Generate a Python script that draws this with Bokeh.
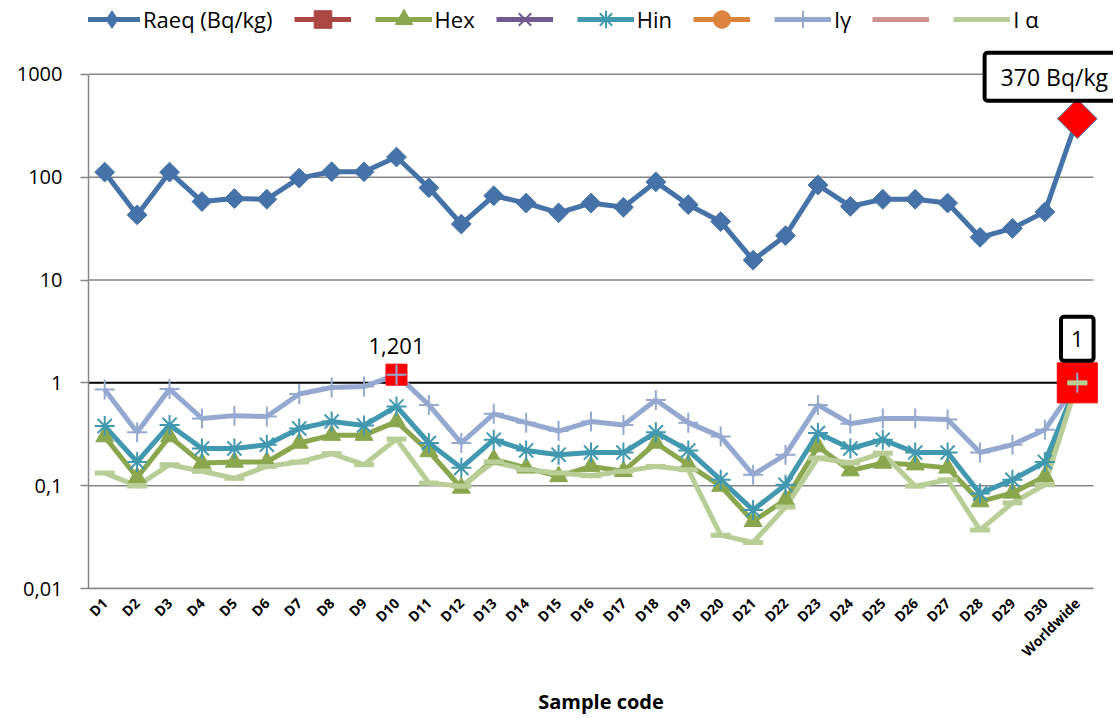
import math
from bokeh.plotting import figure
from bokeh.models import Range1d, FixedTicker, Label, Legend, LegendItem
from bokeh.embed import file_html
from bokeh.resources import INLINE

samples = ["D1", "D2", "D3", "D4", "D5", "D6", "D7", "D8", "D9", "D10",
           "D11", "D12", "D13", "D14", "D15", "D16", "D17", "D18", "D19", "D20",
           "D21", "D22", "D23", "D24", "D25", "D26", "D27", "D28", "D29", "D30",
           "Worldwide"]

raeq = [112, 43, 112, 58, 62, 61, 98, 113, 113, 157, 79, 35, 66, 56, 45, 56, 51, 90, 54, 37,
        15.6, 27, 84, 52, 61, 61, 56, 26, 31.8, 46, 370]
hex_ = [0.30, 0.12, 0.30, 0.166, 0.17, 0.17, 0.26, 0.31, 0.31, 0.42, 0.215, 0.095, 0.18, 0.149,
        0.123, 0.154, 0.138, 0.26, 0.16, 0.099, 0.045, 0.073, 0.24, 0.14, 0.166, 0.16, 0.149,
        0.070, 0.085, 0.123, 1]
hin = [0.38, 0.17, 0.39, 0.23, 0.23, 0.25, 0.36, 0.42, 0.385, 0.59, 0.26, 0.149, 0.28, 0.22,
       0.20, 0.21, 0.21, 0.33, 0.22, 0.114, 0.058, 0.102, 0.325, 0.23, 0.28, 0.21, 0.21, 0.084,
       0.114, 0.17, 1]
igamma = [0.86, 0.33, 0.87, 0.45, 0.48, 0.47, 0.78, 0.90, 0.92, 1.201, 0.61, 0.26, 0.50, 0.41,
          0.34, 0.42, 0.39, 0.68, 0.41, 0.30, 0.128, 0.20, 0.61, 0.40, 0.45, 0.45, 0.44, 0.21,
          0.25, 0.35, 1]
ialpha = [0.133, 0.099, 0.16, 0.138, 0.118, 0.154, 0.17, 0.205, 0.16, 0.284, 0.106, 0.099, 0.17,
          0.143, 0.133, 0.125, 0.138, 0.154, 0.143, 0.033, 0.028, 0.062, 0.186, 0.166, 0.207,
          0.099, 0.114, 0.037, 0.068, 0.102, 1]

# series that only appear in the legend (no plotted values)
legend_only = [float("nan")]

# highlighted points (red squares): Iγ at D10 and the worldwide reference values
highlight_cats = ["D10", "Worldwide"]
highlight_vals = [1.201, 1]

y_ticks = [0.01, 0.1, 1, 10, 100, 1000]
y_tick_labels = ["0,01", "0,1", "1", "10", "100", "1000"]

FONT = "Open Sans"

# ---- layout (pixels) ----
W, H = 1113, 718
LEFT, BOTTOM = 88, 129
AREA_W = 1005          # width of the drawn plot area (axis-to-axis)
TOP_GAP = 74           # pixels between canvas top and the top (1000) gridline

n = len(samples)
xs = list(range(n))
x_lo = -0.5
x_hi_area = n - 0.5
x_hi = x_lo + (W - LEFT) * n / AREA_W
frame_h = H - BOTTOM
decades = math.log10(y_ticks[-1] / y_ticks[0])
decade_px = (frame_h - TOP_GAP) / decades
y_top = y_ticks[-1] * 10 ** (TOP_GAP / decade_px)

p = figure(width=W, height=H, x_range=Range1d(x_lo, x_hi), y_range=Range1d(y_ticks[0], y_top),
           y_axis_type="log", output_backend="svg", toolbar_location=None,
           min_border_left=LEFT, min_border_right=0, min_border_top=0, min_border_bottom=BOTTOM)
p.outline_line_color = None
p.background_fill_color = "white"
p.xgrid.grid_line_color = None
p.ygrid.grid_line_color = None

# axes
p.yaxis.ticker = FixedTicker(ticks=y_ticks, minor_ticks=[])
p.yaxis.bounds = (y_ticks[0], y_ticks[-1])
p.yaxis.major_label_overrides = dict(zip(y_ticks, y_tick_labels))
p.yaxis.major_label_text_font = FONT
p.yaxis.major_label_text_font_size = "20px"
p.yaxis.major_label_text_color = "black"
p.yaxis.axis_line_color = "#868686"
p.yaxis.axis_line_width = 1.5
p.yaxis.major_tick_line_color = "#868686"
p.yaxis.major_tick_line_width = 1.5
p.yaxis.major_tick_out = 8
p.yaxis.major_tick_in = 0
p.yaxis.minor_tick_line_color = None
p.yaxis.major_label_standoff = 18

p.xaxis.ticker = FixedTicker(ticks=xs, minor_ticks=[])
p.xaxis.bounds = (x_lo, x_hi_area)
p.xaxis.major_label_overrides = dict(zip(xs, samples))
p.xaxis.major_label_orientation = math.pi / 4
p.xaxis.major_label_text_font = FONT
p.xaxis.major_label_text_font_style = "bold"
p.xaxis.major_label_text_font_size = "14px"
p.xaxis.major_label_text_color = "black"
p.xaxis.axis_line_color = "#868686"
p.xaxis.axis_line_width = 1.5
p.xaxis.major_tick_line_color = None
p.xaxis.minor_tick_line_color = None
p.xaxis.major_label_standoff = 6
p.xaxis.axis_label = "Sample code"
p.xaxis.axis_label_text_font = FONT
p.xaxis.axis_label_text_font_style = "bold"
p.xaxis.axis_label_text_font_size = "20px"
p.xaxis.axis_label_text_color = "black"
p.xaxis.axis_label_standoff = 18

# horizontal gridlines limited to the plot area; the line at 1 is black
grid_vals = [t for t in y_ticks if t != 1]
p.segment(x0=x_lo, x1=x_hi_area, y0=grid_vals, y1=grid_vals, line_color="#868686", line_width=1.5)
p.segment(x0=x_lo, x1=x_hi_area, y0=[1], y1=[1], line_color="black", line_width=2)

C_RAEQ = "#4572A7"
C_RED = "#AA4643"
C_HEX = "#8AA74E"
C_PURPLE = "#71588F"
C_HIN = "#4198AF"
C_ORANGE = "#DB843D"
C_IG = "#95A9D0"
C_PINK = "#D19392"
C_IA = "#B9CD96"
LW = 5

# lines first (Excel draws lines below markers)
l_raeq = p.line(xs, raeq, line_color=C_RAEQ, line_width=LW)
l_red = p.line(xs[:1], legend_only, line_color=C_RED, line_width=LW)
l_hex = p.line(xs, hex_, line_color=C_HEX, line_width=LW)
l_purple = p.line(xs[:1], legend_only, line_color=C_PURPLE, line_width=LW)
l_hin = p.line(xs, hin, line_color=C_HIN, line_width=LW)
l_orange = p.line(xs[:1], legend_only, line_color=C_ORANGE, line_width=LW)
l_ig = p.line(xs, igamma, line_color=C_IG, line_width=LW)
l_pink = p.line(xs[:1], legend_only, line_color=C_PINK, line_width=LW)
l_ia = p.line(xs, ialpha, line_color=C_IA, line_width=LW)

# markers
m_raeq = p.scatter(xs[:-1], raeq[:-1], marker="square", angle=math.pi / 4, size=14,
                   fill_color=C_RAEQ, line_color=C_RAEQ)
# diamond used for the legend swatch of Raeq
k_raeq = p.scatter(xs[:1], legend_only, marker="diamond", size=14, fill_color=C_RAEQ,
                   line_color=C_RAEQ)
m_red = p.scatter(xs[:1], legend_only, marker="square", size=14, fill_color=C_RED, line_color=C_RED)
m_hex = p.scatter(xs, hex_, marker="triangle", size=18, fill_color=C_HEX, line_color=C_HEX)
m_purple = p.scatter(xs[:1], legend_only, marker="x", size=16, line_color=C_PURPLE, line_width=2)
m_hin = p.scatter(xs, hin, marker="asterisk", size=20, line_color=C_HIN, line_width=2)
m_orange = p.scatter(xs[:1], legend_only, marker="circle", size=14, fill_color=C_ORANGE,
                     line_color=C_ORANGE)

# red highlight squares
hx = [samples.index(c) for c in highlight_cats]
p.scatter(hx[:1], highlight_vals[:1], marker="square", size=21,
          fill_color="#FF0000", line_color="#FF0000")
p.scatter(hx[1:], highlight_vals[1:], marker="square", size=40,
          fill_color="#FF0000", line_color="#FF0000")

m_ig = p.scatter(xs, igamma, marker="cross", size=20, line_color=C_IG, line_width=2)
m_ia = p.scatter(xs, ialpha, marker="dash", size=20, line_color=C_IA, line_width=5)

# worldwide Raeq highlighted as red diamond
p.scatter(xs[-1:], raeq[-1:], marker="square", angle=math.pi / 4, size=28,
          fill_color="#FF0000", line_color=C_RAEQ, line_width=1)

# labels
p.add_layout(Label(x=hx[1], y=raeq[-1], text="370 Bq/kg", x_offset=-23, y_offset=42,
                   text_align="center", text_baseline="middle", text_font=FONT,
                   text_font_size="23px", text_color="black",
                   border_line_color="black", border_line_width=4, border_radius=3,
                   background_fill_color="white",
                   padding=dict(left=16, right=16, top=8, bottom=8)))
p.add_layout(Label(x=hx[1], y=highlight_vals[1], text="1", y_offset=44,
                   text_align="center", text_baseline="middle", text_font=FONT,
                   text_font_size="22px", text_color="black",
                   border_line_color="black", border_line_width=4, border_radius=3,
                   background_fill_color="white",
                   padding=dict(left=10, right=10, top=14, bottom=14)))
p.add_layout(Label(x=hx[0], y=highlight_vals[0], text="1,201", y_offset=29,
                   text_align="center", text_baseline="middle", text_font=FONT,
                   text_font_size="22px", text_color="black"))

legend = Legend(items=[
    LegendItem(label="Raeq (Bq/kg)", renderers=[l_raeq, k_raeq]),
    LegendItem(label="", renderers=[l_red, m_red]),
    LegendItem(label="Hex", renderers=[l_hex, m_hex]),
    LegendItem(label="", renderers=[l_purple, m_purple]),
    LegendItem(label="Hin", renderers=[l_hin, m_hin]),
    LegendItem(label="", renderers=[l_orange, m_orange]),
    LegendItem(label="Iγ", renderers=[l_ig, m_ig]),
    LegendItem(label="", renderers=[l_pink]),
    LegendItem(label="I α", renderers=[l_ia]),
], orientation="horizontal", location=(-5, frame_h - 42), padding=0, margin=0, spacing=21,
    label_standoff=3, glyph_width=57, glyph_height=44, label_height=20, label_width=0,
    label_text_font=FONT, label_text_font_size="22px", label_text_color="black",
    border_line_color=None, background_fill_alpha=0)
p.add_layout(legend, "center")

open("out.html", "w").write(file_html(p, INLINE))
